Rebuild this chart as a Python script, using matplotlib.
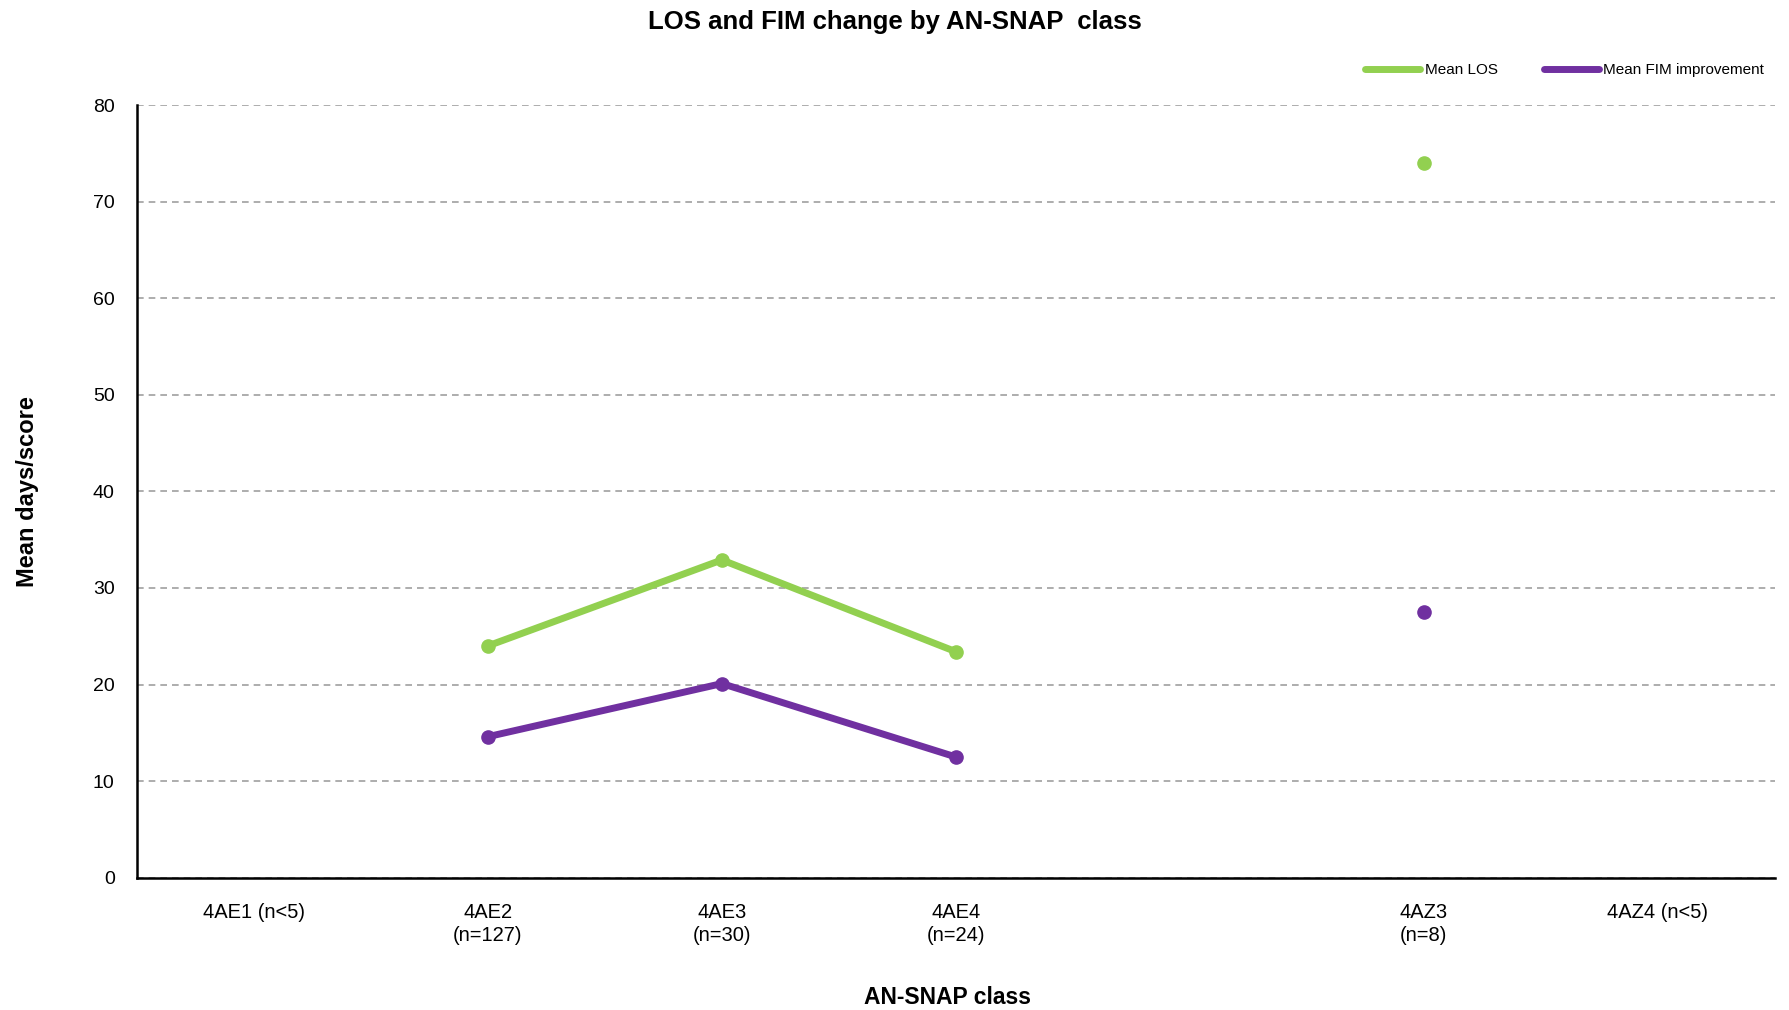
import numpy as np
import matplotlib
matplotlib.use('Agg')
import matplotlib.pyplot as plt
from matplotlib import font_manager

# 字体：优先窄体
names = {f.name for f in font_manager.fontManager.ttflist}
narrow = 'Liberation Sans Narrow' if 'Liberation Sans Narrow' in names else 'Liberation Sans'
plt.rcParams['font.family'] = [narrow, 'DejaVu Sans']

categories = ['4AE1 (n<5)', '4AE2\n(n=127)', '4AE3\n(n=30)', '4AE4\n(n=24)', '',
              '4AZ3\n(n=8)', '4AZ4 (n<5)']
mean_los = [np.nan, 24.0, 32.9, 23.4, np.nan, 74.0, np.nan]
mean_fim = [np.nan, 14.6, 20.1, 12.5, np.nan, 27.5, np.nan]
y_ticks = [0, 10, 20, 30, 40, 50, 60, 70, 80]

green = '#92D050'
purple = '#7030A0'

fig = plt.figure(figsize=(17.9, 10.1), dpi=100)
ax = fig.add_axes([0.0765, 0.131, 0.915, 0.765])

x = np.arange(len(categories))
ax.plot(x, mean_los, color=green, lw=5, marker='o', ms=9.5, label='Mean LOS',
        solid_capstyle='round', zorder=3)
ax.plot(x, mean_fim, color=purple, lw=5, marker='o', ms=9.5, label='Mean FIM improvement',
        solid_capstyle='round', zorder=3)

ax.set_xlim(-0.5, len(categories) - 0.5)
ax.set_ylim(0, 80)
ax.set_yticks(y_ticks)
ax.set_xticks(x)
ax.set_xticklabels(categories, fontsize=14.5, linespacing=1.3)
ax.tick_params(axis='x', length=0, pad=18)
ax.tick_params(axis='y', length=0, pad=16)
for lab in ax.get_yticklabels():
    lab.set_family(['Liberation Sans', 'DejaVu Sans'])
    lab.set_fontsize(14)

ax.grid(axis='y', color='#a0a0a0', ls=(0, (4, 3)), lw=1.2)
ax.set_axisbelow(True)
for s in ['top', 'right']:
    ax.spines[s].set_visible(False)
ax.spines['left'].set_linewidth(1.8)
ax.spines['bottom'].set_linewidth(1.8)

ax.set_ylabel('Mean days/score', fontsize=17, fontweight='bold')
ax.yaxis.set_label_coords(-0.06, 0.5)
ax.set_xlabel('AN-SNAP class', fontsize=16.5, fontweight='bold')
ax.xaxis.set_label_coords(0.495, -0.14)
fig.suptitle('LOS and FIM change by AN-SNAP  class', fontsize=18.5, fontweight='bold', y=0.99)

ax.legend(loc='upper right', bbox_to_anchor=(1.002, 1.072), ncol=2, frameon=False,
          fontsize=11, handlelength=3.6, handletextpad=0.3, columnspacing=3.0,
          markerscale=0.0001)

fig.savefig('out.png', dpi=100)
